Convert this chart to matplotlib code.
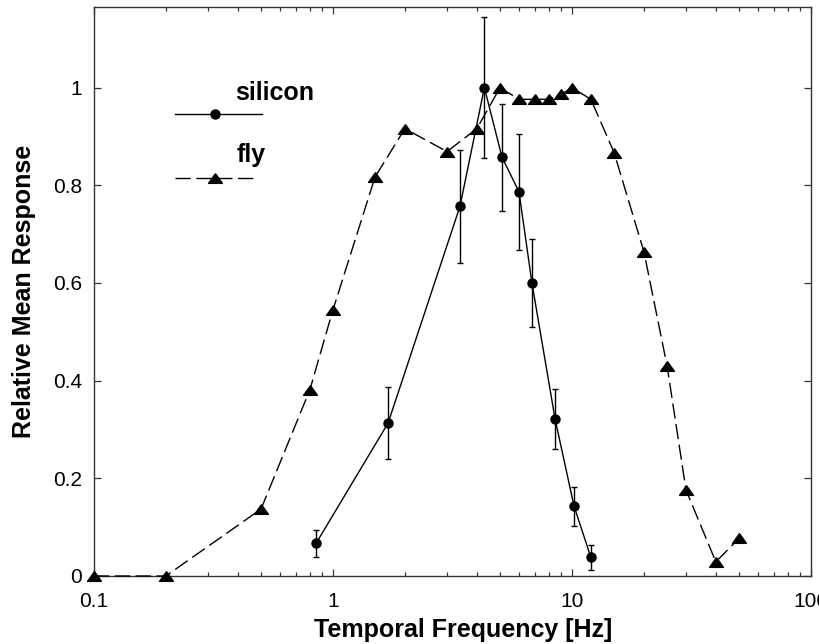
import matplotlib
matplotlib.use("Agg")
import matplotlib.pyplot as plt
from matplotlib.ticker import FixedLocator, FixedFormatter, LogLocator, NullFormatter
import numpy as np

plt.rcParams['font.family'] = ['Liberation Sans', 'DejaVu Sans']

# silicon (circles, solid) with error bars
si_freq = [0.85, 1.7, 3.4, 4.3, 5.1, 6.0, 6.8, 8.5, 10.2, 12.0]
si_resp = [0.067, 0.313, 0.757, 1.0, 0.857, 0.787, 0.600, 0.321, 0.143, 0.038]
si_err = [0.028, 0.074, 0.116, 0.145, 0.11, 0.119, 0.09, 0.061, 0.04, 0.025]

# fly (triangles, dashed)
fly_freq = [0.1, 0.2, 0.5, 0.8, 1.0, 1.5, 2.0, 3.0, 4.0, 5.0, 6.0, 7.0, 8.0, 9.0,
            10.0, 12.0, 15.0, 20.0, 25.0, 30.0, 40.0, 50.0]
fly_resp = [0.0, 0.0, 0.137, 0.381, 0.545, 0.817, 0.916, 0.869, 0.916, 1.0, 0.976,
            0.976, 0.976, 0.986, 1.0, 0.976, 0.867, 0.664, 0.43, 0.176, 0.029, 0.077]

xticks = [0.1, 1, 10, 100]
xticklabels = ["0.1", "1", "10", "100"]
yticks = [0, 0.2, 0.4, 0.6, 0.8, 1.0]
yticklabels = ["0", "0.2", "0.4", "0.6", "0.8", "1"]

# flattened triangle marker
tri = [(0, 0.7), (-1, -0.7), (1, -0.7), (0, 0.7)]

fig = plt.figure(figsize=(8.2, 6.44), dpi=100)
ax = fig.add_axes([0.1146, 0.1056, 0.8744, 0.8835])

ax.plot(fly_freq, fly_resp, color="black", lw=1.0, dashes=(11, 4),
        marker=tri, markersize=10, markerfacecolor="black", markeredgecolor="black",
        clip_on=False, zorder=3)
ax.errorbar(si_freq, si_resp, yerr=si_err, color="black", lw=1.0, elinewidth=1.0,
            capsize=2.5, capthick=1.0, marker="o", markersize=6.5,
            markerfacecolor="black", markeredgecolor="black", zorder=4)

ax.set_xscale("log")
ax.set_xlim(0.1, 100)
ax.set_ylim(0, 1.165)

ax.xaxis.set_major_locator(FixedLocator(xticks))
ax.xaxis.set_major_formatter(FixedFormatter(xticklabels))
ax.xaxis.set_minor_locator(LogLocator(base=10, subs=np.arange(2, 10)))
ax.xaxis.set_minor_formatter(NullFormatter())
ax.yaxis.set_major_locator(FixedLocator(yticks))
ax.yaxis.set_major_formatter(FixedFormatter(yticklabels))

ax.tick_params(which="both", direction="in", top=True, right=True,
               labelsize=15, color="#333333")
ax.tick_params(axis="x", which="both", pad=11.5)
ax.tick_params(axis="y", which="both", pad=8.5)
ax.tick_params(which="major", length=4.8, width=0.9)
ax.tick_params(which="minor", length=2.9, width=0.9)
for s in ax.spines.values():
    s.set_color("#333333")
    s.set_linewidth(1.0)

ax.set_xlabel("Temporal Frequency [Hz]", fontsize=18, fontweight="bold", labelpad=5)
ax.xaxis.set_label_coords(0.515, -0.073)
ax.set_ylabel("Relative Mean Response", fontsize=18, fontweight="bold", labelpad=12)

# legend drawn by hand: label above and right of each sample
ax.plot([0.113, 0.234], [0.812, 0.812], transform=ax.transAxes, color="black", lw=1.0)
ax.plot([0.169], [0.812], transform=ax.transAxes, marker="o", markersize=6.5, color="black")
ax.text(0.1967, 0.8366, "silicon", transform=ax.transAxes, fontsize=18,
        fontweight="bold", va="baseline", ha="left")
ax.plot([0.113, 0.229], [0.700, 0.700], transform=ax.transAxes, color="black",
        lw=1.0, dashes=(11, 4))
ax.plot([0.169], [0.700], transform=ax.transAxes, marker=tri, markersize=10, color="black")
ax.text(0.1994, 0.7276, "fly", transform=ax.transAxes, fontsize=18,
        fontweight="bold", va="baseline", ha="left")

fig.savefig("out.png", dpi=100)
